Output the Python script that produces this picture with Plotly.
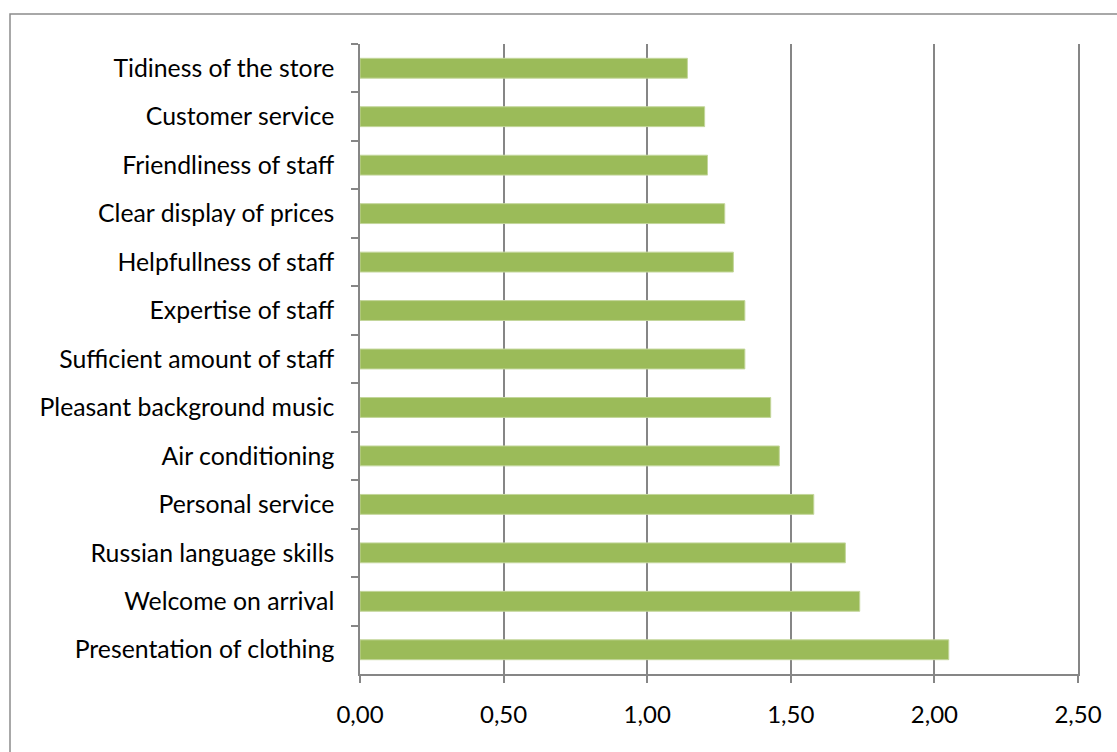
import plotly.graph_objects as go

# Store attributes, listed top to bottom, with their mean scores
attributes = [
    "Tidiness of the store",
    "Customer service",
    "Friendliness of staff",
    "Clear display of prices",
    "Helpfullness of staff",
    "Expertise of staff",
    "Sufficient amount of staff",
    "Pleasant background music",
    "Air conditioning",
    "Personal service",
    "Russian language skills",
    "Welcome on arrival",
    "Presentation of clothing",
]
scores = [1.14, 1.20, 1.21, 1.27, 1.30, 1.34, 1.34, 1.43, 1.46, 1.58, 1.69, 1.74, 2.05]
x_ticks = [0, 0.5, 1.0, 1.5, 2.0, 2.5]

W, H = 1117, 752
L, R, T, B = 360, 39, 44, 78
pw, ph = W - L - R, H - T - B

fig = go.Figure(
    go.Bar(
        x=scores,
        y=attributes,
        orientation="h",
        marker=dict(color="#9BBB59", line=dict(color="#C3D69B", width=1)),
        width=0.41,
    )
)

axis_grey = "#868686"
label_font = dict(family="Lato, 'Open Sans', sans-serif", size=24.8, color="#000000")
tick_font = dict(family="Lato, 'Open Sans', sans-serif", size=24, color="#000000")

fig.update_layout(
    width=W,
    height=H,
    margin=dict(l=L, r=R, t=T, b=B),
    paper_bgcolor="white",
    plot_bgcolor="white",
    separators=", ",
    showlegend=False,
    xaxis=dict(
        range=[0, 2.5],
        tickvals=x_ticks,
        tickformat=".2f",
        tickfont=tick_font,
        showgrid=True,
        gridcolor=axis_grey,
        gridwidth=1.5,
        showline=True,
        linecolor=axis_grey,
        linewidth=1.5,
        ticks="outside",
        ticklen=7,
        tickcolor=axis_grey,
        tickwidth=1.5,
        ticklabelstandoff=11,
        zeroline=False,
        fixedrange=True,
    ),
    yaxis=dict(
        autorange="reversed",
        tickfont=label_font,
        showgrid=False,
        showline=True,
        mirror=True,
        linecolor=axis_grey,
        linewidth=1.5,
        ticks="outside",
        tickson="boundaries",
        ticklen=7,
        tickcolor=axis_grey,
        tickwidth=1.5,
        ticklabelstandoff=19,
        fixedrange=True,
    ),
    shapes=[
        dict(
            type="rect",
            xref="paper",
            yref="paper",
            x0=(10 - L) / pw,
            x1=(W + 20 - L) / pw,
            y0=1 + (T - 14) / ph,
            y1=-(B + 20) / ph,
            line=dict(color="#8C8C8C", width=1.5),
            fillcolor="rgba(0,0,0,0)",
            layer="below",
        )
    ],
)

fig.write_html("out.html")
